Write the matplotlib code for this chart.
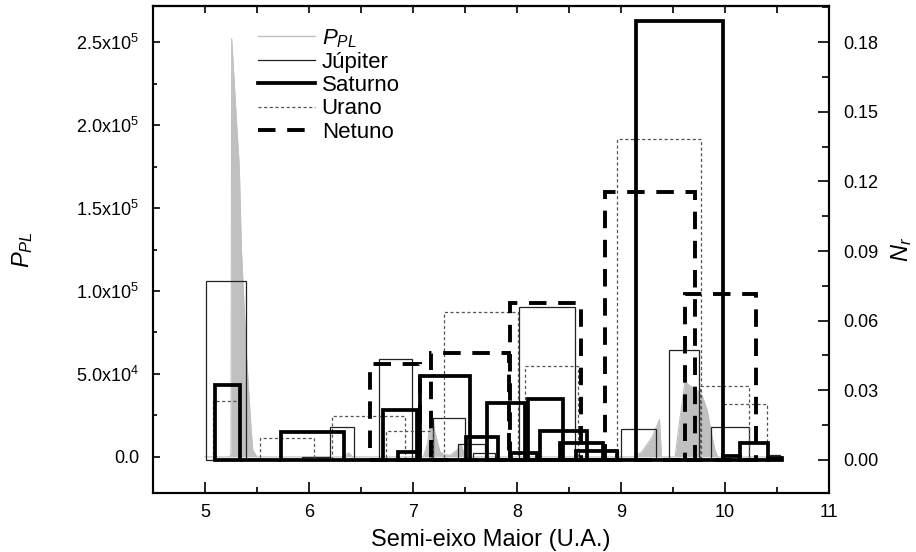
import matplotlib
matplotlib.use('Agg')
import matplotlib.pyplot as plt
from matplotlib.lines import Line2D
from matplotlib.ticker import MultipleLocator, FixedLocator, FixedFormatter

plt.rcParams['font.family'] = ['Liberation Sans', 'DejaVu Sans']
plt.rcParams['mathtext.fontset'] = 'custom'
plt.rcParams['mathtext.rm'] = 'Liberation Sans'
plt.rcParams['mathtext.it'] = 'Liberation Sans:italic'

# P_PL (eixo da esquerda)
a_ppl = [5.00, 5.24, 5.25, 5.257, 5.30, 5.33, 5.35, 5.40, 5.44, 5.46, 5.50,
         6.34, 6.38, 6.42, 7.10, 7.14, 7.18, 7.21, 7.26, 7.30, 7.36, 7.42,
         7.46, 7.50, 7.55, 9.12, 9.20, 9.30, 9.37, 9.39, 9.52, 9.55, 9.615,
         9.66, 9.72, 9.78, 9.83, 9.87, 9.90, 9.93, 10.55]
p_ppl = [0, 0, 2000, 252000, 205000, 175000, 125000, 60000, 20000, 4000, 0,
         0, 2500, 0, 0, 8000, 28000, 15000, 3000, 1500, 1000, 4000,
         7500, 1000, 0, 0, 3000, 12000, 22500, 0, 0, 15000, 45500,
         43000, 41000, 37000, 28000, 14000, 5000, 0, 0]

# N_r por planeta: borda esquerda, largura e altura de cada coluna
jup_left = [5.01, 5.93, 6.20, 6.67, 7.19, 7.43, 7.58, 8.02, 8.60, 9.00, 9.46, 9.87, 10.41]
jup_width = [0.38, 0.27, 0.23, 0.32, 0.31, 0.26, 0.21, 0.54, 0.37, 0.34, 0.29, 0.36, 0.12]
jup_n = [0.077, 0.0013, 0.0142, 0.0434, 0.018, 0.0069, 0.003, 0.0657, 0.0045, 0.0133, 0.0473, 0.0142, 0.002]

sat_left = [5.10, 5.34, 5.73, 6.34, 6.71, 6.86, 7.07, 7.51, 7.71, 7.94, 8.11, 8.22,
            8.41, 8.57, 8.96, 9.14, 9.98, 10.14, 10.41]
sat_width = [0.24, 0.39, 0.61, 0.37, 0.33, 0.20, 0.48, 0.31, 0.37, 0.25, 0.33, 0.45,
             0.42, 0.39, 0.18, 0.84, 0.16, 0.27, 0.14]
sat_n = [0.0323, 0.0, 0.0122, 0.0, 0.0215, 0.0034, 0.0361, 0.0099, 0.0245, 0.003, 0.0262, 0.0126,
         0.0074, 0.004, 0.0, 0.189, 0.0015, 0.0073, 0.001]

ura_left = [5.08, 5.53, 6.22, 6.74, 7.30, 8.08, 8.96, 9.76, 9.98]
ura_width = [0.26, 0.52, 0.70, 0.45, 0.71, 0.51, 0.81, 0.47, 0.42]
ura_n = [0.0255, 0.0096, 0.0188, 0.0126, 0.0638, 0.0406, 0.1383, 0.0318, 0.024]

net_left = [6.59, 7.17, 7.93, 8.85, 9.615]
net_width = [0.48, 0.75, 0.69, 0.86, 0.685]
net_n = [0.0412, 0.0459, 0.0674, 0.1154, 0.0717]

ppl_ticks = [0, 5e4, 1e5, 1.5e5, 2e5, 2.5e5]
ppl_labels = ['0.0', r'5.0x10$^4$', r'1.0x10$^5$', r'1.5x10$^5$', r'2.0x10$^5$', r'2.5x10$^5$']

cinza = '#c0c0c0'
estilos = {
    'Júpiter': dict(color='#222222', lw=0.9, ls='-'),
    'Saturno': dict(color='black', lw=2.7, ls='-'),
    'Urano': dict(color='#555555', lw=0.9, ls=(0, (2.5, 2))),
    'Netuno': dict(color='black', lw=2.8, ls=(0, (4.5, 3))),
}


def main():
    fig = plt.figure(figsize=(9.16, 5.52), dpi=100)
    ax = fig.add_axes([0.167, 0.107, 0.738, 0.882])
    ax2 = ax.twinx()

    ax.fill_between(a_ppl, p_ppl, 0, color=cinza, lw=0)
    ax.plot(a_ppl, p_ppl, color=cinza, lw=0.8)

    series = [('Júpiter', jup_left, jup_width, jup_n),
              ('Urano', ura_left, ura_width, ura_n),
              ('Saturno', sat_left, sat_width, sat_n),
              ('Netuno', net_left, net_width, net_n)]
    for nome, left, width, n in series:
        st = estilos[nome]
        ax2.bar(left, n, width=width, align='edge', fill=False,
                edgecolor=st['color'], linewidth=st['lw'], linestyle=st['ls'])

    ax.set_xlim(4.5, 11)
    ax.set_ylim(-21700, 271700)
    ax2.set_ylim(-0.0142, 0.1955)

    ax.xaxis.set_major_locator(MultipleLocator(1))
    ax.xaxis.set_minor_locator(MultipleLocator(0.5))
    ax.yaxis.set_major_locator(FixedLocator(ppl_ticks))
    ax.yaxis.set_major_formatter(FixedFormatter(ppl_labels))
    ax.yaxis.set_minor_locator(MultipleLocator(2.5e4))
    ax2.yaxis.set_major_locator(MultipleLocator(0.03))
    ax2.yaxis.set_minor_locator(MultipleLocator(0.015))
    ax2.yaxis.set_major_formatter(plt.FuncFormatter(lambda v, p: '%.2f' % v))

    ax.tick_params(axis='x', which='major', direction='in', length=8, width=1.2,
                   labelsize=13, pad=8, top=False)
    ax.tick_params(axis='x', which='minor', direction='in', length=4, width=1.2, top=False)
    ax.tick_params(axis='y', which='major', direction='in', length=5, width=1.2,
                   labelsize=13, pad=10, right=False)
    ax.tick_params(axis='y', which='minor', direction='in', length=3, width=1.2, right=False)
    ax2.tick_params(axis='y', which='major', direction='in', length=8, width=1.2,
                    labelsize=13, pad=10)
    ax2.tick_params(axis='y', which='minor', direction='in', length=5, width=1.2)

    topo = ax.secondary_xaxis('top')
    topo.set_xticks([5 + 0.5 * i for i in range(12)])
    topo.tick_params(direction='in', length=5, width=1.2, labeltop=False)

    for a in (ax, ax2):
        for s in a.spines.values():
            s.set_linewidth(1.5)
    topo.spines['top'].set_linewidth(1.5)

    ax.set_xlabel('Semi-eixo Maior (U.A.)', fontsize=17, labelpad=6)
    ax.set_ylabel(r'$P_{PL}$', fontsize=17, labelpad=30)
    ax2.set_ylabel(r'$N_r$', fontsize=17, labelpad=8)

    handles = [Line2D([], [], color=cinza, lw=1.0, label=r'$P_{PL}$')]
    for nome in ['Júpiter', 'Saturno', 'Urano', 'Netuno']:
        st = estilos[nome]
        handles.append(Line2D([], [], color=st['color'], lw=st['lw'], ls=st['ls'], label=nome))
    ax2.legend(handles=handles, loc='upper left', bbox_to_anchor=(0.142, 0.975),
               frameon=False, fontsize=16, handlelength=2.57, handletextpad=0.3,
               labelspacing=0.1, borderaxespad=0)

    fig.savefig('out.png', dpi=100)


if __name__ == '__main__':
    main()
